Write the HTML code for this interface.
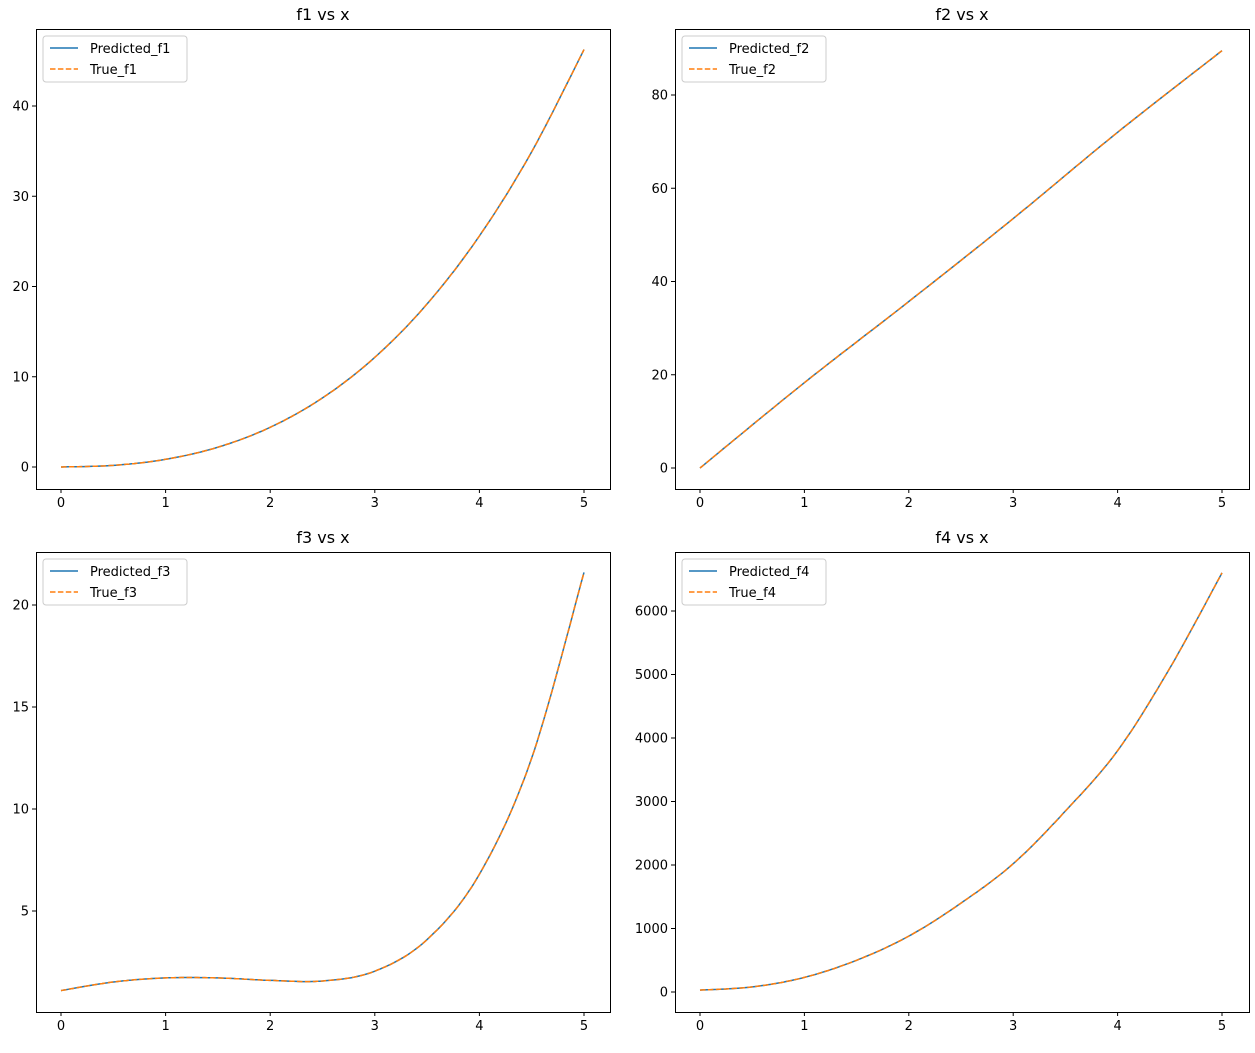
<!DOCTYPE html>
<html><head><meta charset="utf-8"><style>
body{margin:0;background:#fff}
svg text{font-family:"DejaVu Sans","Liberation Sans",sans-serif;fill:#000}
</style></head><body>
<svg id="s" width="1255" height="1048" xmlns="http://www.w3.org/2000/svg"></svg>
<script>
const S=document.getElementById('s');let h='';
function cr(pts,n){const o=[];for(let i=0;i<pts.length-1;i++){const p0=pts[Math.max(i-1,0)],p1=pts[i],p2=pts[i+1],p3=pts[Math.min(i+2,pts.length-1)];for(let k=0;k<n;k++){const t=k/n,t2=t*t,t3=t2*t;o.push([0,1].map(j=>0.5*((2*p1[j])+(-p0[j]+p2[j])*t+(2*p0[j]-5*p1[j]+4*p2[j]-p3[j])*t2+(-p0[j]+3*p1[j]-3*p2[j]+p3[j])*t3)));}}o.push(pts[pts.length-1]);return o;}
const P=[
{L:36,R:610,T:29,B:489,x0:61,x1:584,yz:467,ys:9.025,ticks:[0,10,20,30,40],title:'f1 vs x',n:'1',
 pts:[0,.5,1,1.5,2,2.5,3,3.5,4,4.5,5].map(x=>[x,0.25*x*x*x+0.6*x*x])},
{L:675,R:1249,T:29,B:489,x0:700,x1:1222,yz:468,ys:4.6625,ticks:[0,20,40,60,80],title:'f2 vs x',n:'2',
 pts:[[0,0],[1,18.3],[2,35.7],[3,53.5],[4,72],[5,89.5]]},
{L:36,R:610,T:552,B:1012,x0:61,x1:584,yz:1013,ys:20.4,ticks:[5,10,15,20],title:'f3 vs x',n:'3',
 pts:[[0,1.1],[0.5,1.52],[1,1.72],[1.5,1.72],[2,1.6],[2.5,1.57],[3,2.05],[3.5,3.6],[4,6.8],[4.5,12.5],[5,21.6]]},
{L:675,R:1249,T:552,B:1012,x0:700,x1:1222,yz:992,ys:0.0635,ticks:[0,1000,2000,3000,4000,5000,6000],title:'f4 vs x',n:'4',
 pts:[[0,30],[0.5,80],[1,230],[1.5,500],[2,880],[2.5,1400],[3,2020],[3.5,2850],[4,3800],[4.5,5100],[5,6600]]}];
for(const p of P){
 const sx=x=>p.x0+(p.x1-p.x0)*x/5, sy=y=>p.yz-y*p.ys;
 const c=cr(p.pts,20).map(q=>sx(q[0]).toFixed(1)+','+sy(q[1]).toFixed(1)).join(' ');
 h+=`<polyline points="${c}" fill="none" stroke="#1f77b4" stroke-width="1.5"/>`;
 h+=`<polyline points="${c}" fill="none" stroke="#ff7f0e" stroke-width="1.5" stroke-dasharray="5.5,2.4"/>`;
 h+=`<rect x="${p.L}.5" y="${p.T}.5" width="${p.R-p.L}" height="${p.B-p.T}" fill="none" stroke="#000" stroke-width="1"/>`;
 for(let i=0;i<=5;i++){const x=sx(i);h+=`<line x1="${x}" x2="${x}" y1="${p.B}" y2="${p.B+4}" stroke="#000"/><text x="${x}" y="${p.B+18}" font-size="13" text-anchor="middle">${i}</text>`;}
 for(const t of p.ticks){const y=sy(t);h+=`<line x1="${p.L-4}" x2="${p.L}" y1="${y}" y2="${y}" stroke="#000"/><text x="${p.L-7}" y="${y+4.5}" font-size="13" text-anchor="end">${t}</text>`;}
 h+=`<text x="${(p.L+p.R)/2}" y="20" font-size="16" text-anchor="middle" transform="translate(0,${p.T-29})">${p.title}</text>`;
 const lx=p.L+7,ly=p.T+7;
 h+=`<rect x="${lx}" y="${ly}" width="144" height="46" rx="3" fill="#fff" fill-opacity="0.8" stroke="#ccc"/>`;
 h+=`<line x1="${lx+7}" x2="${lx+35}" y1="${ly+12}" y2="${ly+12}" stroke="#1f77b4" stroke-width="1.5"/><text x="${lx+47}" y="${ly+17}" font-size="13">Predicted_f${p.n}</text>`;
 h+=`<line x1="${lx+7}" x2="${lx+35}" y1="${ly+33}" y2="${ly+33}" stroke="#ff7f0e" stroke-width="1.5" stroke-dasharray="5.5,2.4"/><text x="${lx+47}" y="${ly+38}" font-size="13">True_f${p.n}</text>`;
}
S.innerHTML=h;
</script>
</body></html>
